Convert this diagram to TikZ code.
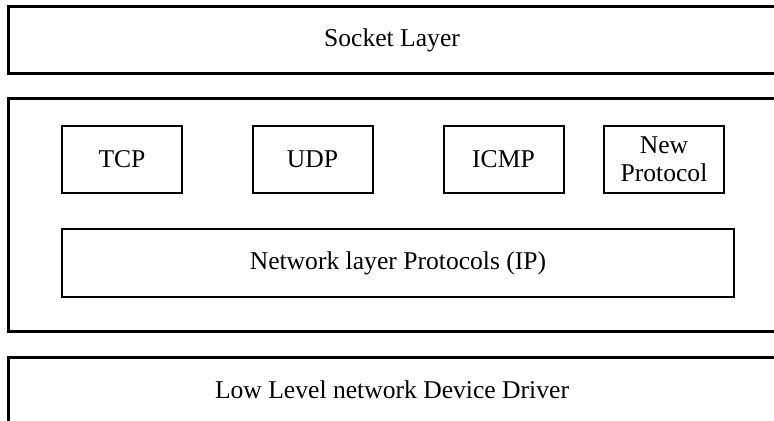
\documentclass[tikz,border=0pt]{standalone}
\usepackage{fontspec}
\setmainfont{Liberation Serif}
\usepackage{tikz}

\begin{document}
\begin{tikzpicture}[x=0.5pt, y=-0.5pt, font=\fontsize{12.8}{14.2}\selectfont]
        \useasboundingbox (0,0) rectangle (774,421);

        \begin{scope}[every node/.style = {rectangle, draw, line width=1.5pt,
                minimum width=384pt, minimum height=33.5pt, inner sep=0pt}]
            \node (S) at (392, 40.5)  {Socket Layer};
            \node[minimum height=116.5pt] (N) at (392, 215.5) {};
            \node[minimum height=33pt] (D) at (392, 390) {Low Level network Device Driver};
        \end{scope}

        \begin{scope}[every node/.style = {rectangle, draw, line width=1pt,
                minimum width=60pt, minimum height=33.5pt, inner sep=0pt, align=center}]
            \node (T) at (122, 159.5)   {TCP};
            \node (U) at (312.5, 159.5) {UDP};
            \node (I) at (503.5, 159.5) {ICMP};
            \node (P) at (664, 159.5)   {New\\Protocol};
            \node[minimum width=336pt, minimum height=34pt] (IP) at (398, 263) {Network layer Protocols (IP)};
        \end{scope}
    \end{tikzpicture}
\end{document}
